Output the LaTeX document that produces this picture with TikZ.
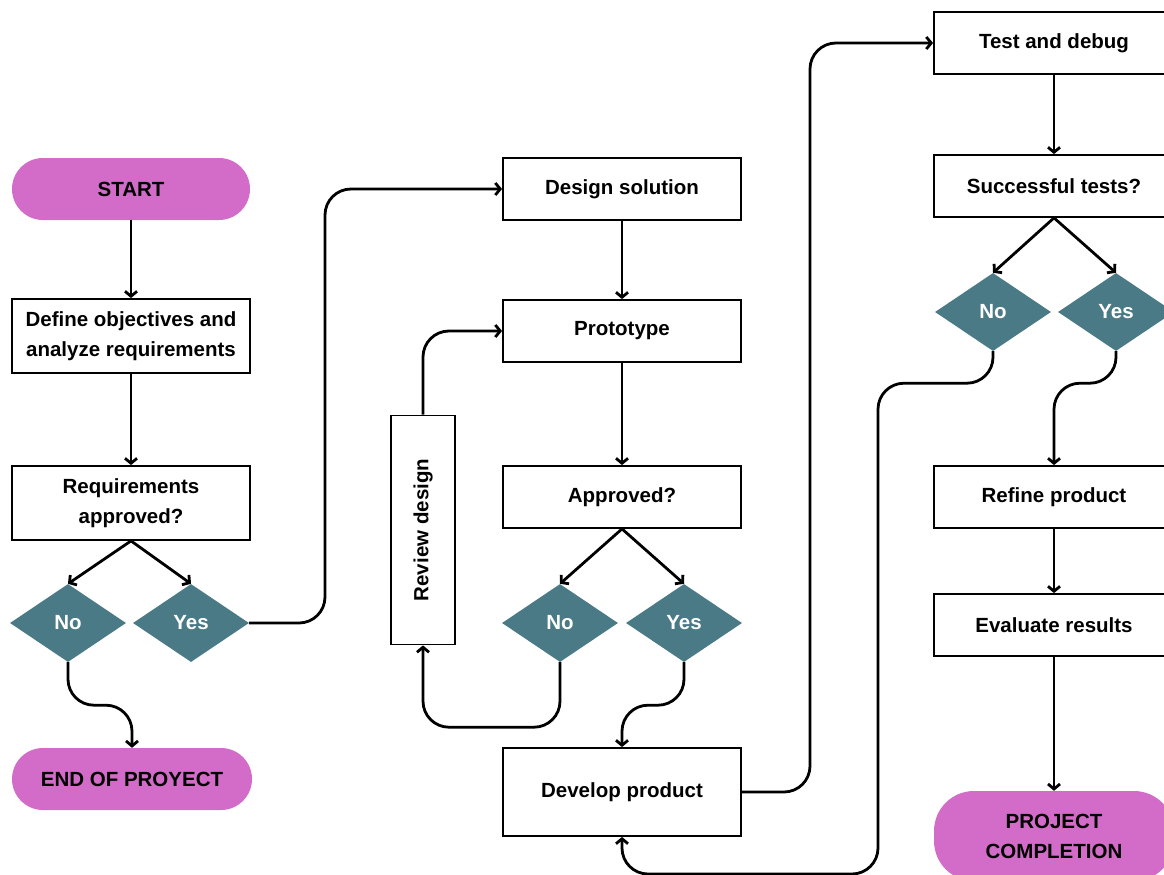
\documentclass[tikz,border=0pt]{standalone}
\usepackage{fontspec}
\setmainfont{Liberation Sans}
\usetikzlibrary{arrows.meta,positioning,shapes.geometric,calc}

\definecolor{pillpink}{RGB}{211,108,200}
\definecolor{decteal}{RGB}{74,122,134}

\begin{document}
\begin{tikzpicture}[x=1pt,y=-1pt,
  every node/.style={font=\fontsize{20.5}{30}\selectfont\bfseries},
  terminal/.style={fill=pillpink, rounded corners=31pt, minimum width=238pt, minimum height=62pt, align=center},
  process/.style={draw, line width=1.8pt, fill=white, minimum width=238pt, minimum height=62pt, align=center},
  decision/.style={diamond, fill=decteal, text=white, minimum width=116pt, minimum height=78pt, inner sep=0pt, aspect=1.5},
  flow/.style={line width=2.8pt, -{Straight Barb[length=5pt,width=12pt]}, rounded corners=26pt}]
  % Frame of the picture
  \useasboundingbox (0,0) rectangle (1164,875);
  \clip (0,0) rectangle (1164,875);
  % First column
  \node[terminal] (start) at (131,189) {START};
  \node[process, minimum height=74pt] (define) at (131,336) {Define objectives and\\analyze requirements};
  \node[process, minimum height=74pt] (reqok) at (131,503) {Requirements\\approved?};
  \node[decision] (no1) at (68,623) {No};
  \node[decision] (yes1) at (191,623) {Yes};
  \node[terminal, minimum width=240pt] (endp) at (132,779) {END OF PROYECT};
  % Second column
  \node[process] (design) at (622,189) {Design solution};
  \node[process] (proto) at (622,331) {Prototype};
  \node[process] (approved) at (622,497) {Approved?};
  \node[decision] (no2) at (560,623) {No};
  \node[decision] (yes2) at (684,623) {Yes};
  \node[process, rotate=90, minimum width=229pt, minimum height=64pt] (review) at (423,530) {Review design};
  \node[process, minimum height=88pt] (develop) at (622,792) {Develop product};
  % Third column
  \node[process, minimum width=240pt] (test) at (1054,43) {Test and debug};
  \node[process, minimum width=240pt] (succ) at (1054,186) {Successful tests?};
  \node[decision] (no3) at (993,312) {No};
  \node[decision] (yes3) at (1116,312) {Yes};
  \node[process, minimum width=240pt] (refine) at (1054,497) {Refine product};
  \node[process, minimum width=240pt] (evalr) at (1054,625) {Evaluate results};
  \node[terminal, minimum width=240pt, minimum height=90pt, rounded corners=40pt] (finish) at (1054,836) {PROJECT\\COMPLETION};
  % Connectors
  \draw[flow] (start) -- (define);
  \draw[flow] (define) -- (reqok);
  \draw[flow] (reqok.south) -- (no1.north);
  \draw[flow] (reqok.south) -- (yes1.north);
  \draw[flow] (no1.south) -- ++(0,43) -| (endp.north);
  \draw[flow] (yes1.east) -- (325,623) |- (design.west);
  \draw[flow] (design) -- (proto);
  \draw[flow] (proto) -- (approved);
  \draw[flow] (approved.south) -- (no2.north);
  \draw[flow] (approved.south) -- (yes2.north);
  \draw[flow] (no2.south) -- ++(0,65) -| (review.west);
  \draw[flow] (review.east) |- (proto.west);
  \draw[flow] (yes2.south) -- ++(0,43) -| (develop.north);
  \draw[flow] (develop.east) -- (810,792) |- (test.west);
  \draw[flow] (test) -- (succ);
  \draw[flow] (succ.south) -- (no3.north);
  \draw[flow] (succ.south) -- (yes3.north);
  \draw[flow] (no3.south) -- ++(0,32) -| (878,874) -| (develop.south);
  \draw[flow] (yes3.south) -- ++(0,32) -| (refine.north);
  \draw[flow] (refine) -- (evalr);
  \draw[flow] (evalr) -- (finish);
\end{tikzpicture}
\end{document}
